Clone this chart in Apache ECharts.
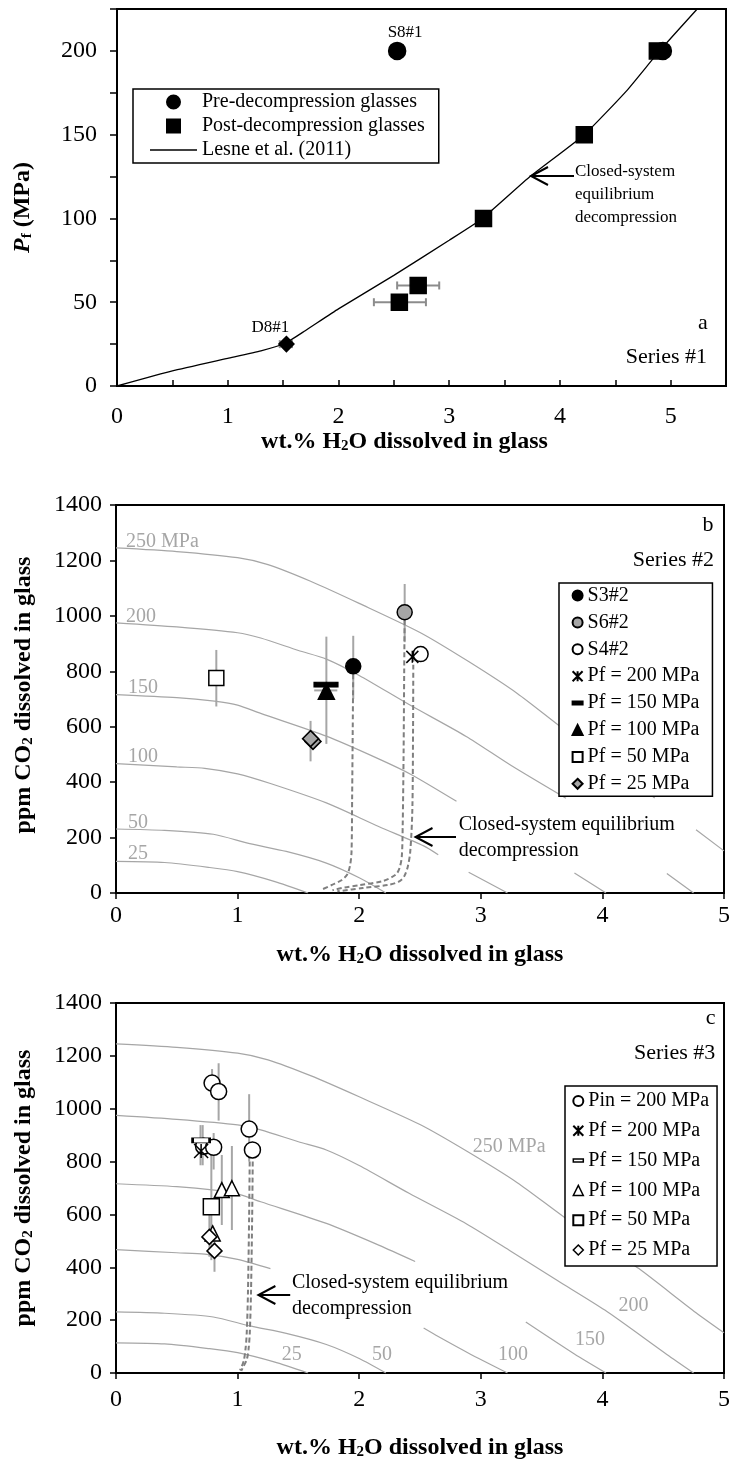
<!DOCTYPE html>
<html><head><meta charset="utf-8">
<script src="https://cdn.jsdelivr.net/npm/echarts@6/dist/echarts.min.js"></script>
<style>html,body{margin:0;padding:0;background:#fff}#c{width:733px;height:1465px}</style>
</head><body><div id="c"></div>
<script>
// ---------- Panel a data ----------
const aXTickLabels = ['0','1','2','3','4','5'];
const aYTickLabels = ['0','50','100','150','200'];
const aPre = [[2.53,200],[4.93,200]];
const aPreLabels = ['S8#1',''];
const aPost = [[4.88,200],[4.22,150],[3.31,100],[2.72,60],[2.55,50]];
const aD8 = [[1.53,25]];
const aLesne = [[0,0],[0.5,9],[1,16.5],[1.3,21],[1.52,25.5],[1.7,33],[2,46],[2.5,66],[3,87],[3.3,100],[3.73,125],[4.22,150],[4.6,176],[4.9,200],[5.24,225]];
const aXErr = [[60,2.53,2.91],[50,2.32,2.79],[25,1.47,1.58]]; // [y, xlow, xhigh]

// ---------- Isobars (ppm CO2 vs wt.% H2O) ----------
const G = ['-','-']; // gap
const b250 = [[0,1245],[0.5,1232],[1,1210],[1.25,1185],[1.6,1125],[2,1045],[2.5,940],[2.9,835],[3.3,720],[3.67,595],[4,490],[4.43,343],G,[4.77,228],[5,152]];
const b200 = [[0,975],[0.5,960],[1,939],[1.19,920],[1.5,875],[1.73,844],[2,785],[2.41,680],[2.88,565],[3.25,460],[3.7,342],G,[4.53,70],[4.75,0]];
const b150 = [[0,716],[0.5,705],[0.81,692],[1,678],[1.19,648],[1.73,566],[2.16,484],[2.43,427],[2.8,331],G,[3.77,72],[4.03,0]];
const b100 = [[0,467],[0.5,455],[0.73,450],[1,430],[1.27,395],[1.73,325],[2.16,240],[2.53,170],[2.65,138],G,[2.9,75],[3.22,0]];
const iso50 = [[0,231],[0.4,226],[0.8,212],[1.1,178],[1.4,150],[1.73,108],[2,55],[2.22,0]];
const iso25 = [[0,114],[0.4,110],[0.77,92],[1,77],[1.3,42],[1.58,0]];
const c250 = [[0,1245],[0.5,1232],[1,1210],[1.25,1185],[1.6,1125],[2,1045],[2.5,940],[2.9,835],[3.3,720],[3.67,595],[4,490],[4.3,395],[4.77,228],[5,152]];
const c200 = [[0,975],[0.5,960],[1,939],[1.19,920],[1.5,875],[1.73,844],[2,785],[2.41,680],[2.88,565],[3.25,460],[3.63,350],[4.02,238],[4.53,70],[4.75,0]];
const c150 = [[0,716],[0.5,705],[0.81,692],[1,678],[1.19,648],[1.73,566],[2.16,484],[2.46,422],G,[3.37,193],[3.77,72],[4.03,0]];
const c100 = [[0,467],[0.5,455],[0.73,450],[1,430],[1.27,395],G,[2.53,170],[2.65,138],[2.9,75],[3.22,0]];

// ---------- Panel b data ----------
const bS3 = [[1.951,818]];
const bS6 = [[2.374,1013]];
const bS4 = [[2.505,862]];
const bPf200 = [[2.437,852]];
const bPf150 = [[1.727,752]];
const bPf100 = [[1.73,728]];
const bPf50 = [[0.825,776]];
const bPf25 = [[1.62,547],[1.6,557]];
const bYErr = [[0.825,673,877],[1.73,538,925],[1.6,475,621],[1.951,700,928],[2.374,905,1115]]; // [x, ylow, yhigh]
const bXErr = [[731,1.63,1.82],[557,1.54,1.67]];
const bClosed1 = [[1.951,818],[1.947,600],[1.942,350],[1.937,150],[1.925,100],[1.9,66],[1.85,45],[1.78,30],[1.7,14]];
const bClosed2 = [[2.374,1013],[2.37,800],[2.365,500],[2.358,250],[2.35,130],[2.33,88],[2.3,66],[2.2,44],[2.0,28],[1.88,20],[1.78,10]];
const bClosed3 = [[2.445,852],[2.443,600],[2.437,300],[2.42,150],[2.4,96],[2.37,60],[2.33,42],[2.25,30],[2.03,18],[1.82,6]];

// ---------- Panel c data ----------
const cPin = [[0.79,1097],[0.844,1065],[0.72,858],[0.803,854],[1.095,923],[1.122,844]];
const cPf200 = [[0.70,840]];
const cPf150 = [[0.70,880]];
const cPf100 = [[0.87,692],[0.953,699],[0.795,528]];
const cPf50 = [[0.784,629]];
const cPf25 = [[0.768,515],[0.81,462]];
const cYErr = [[0.79,1045,1150],[0.844,955,1172],[1.095,800,1055],[0.803,770,908],[0.695,786,938],[0.713,786,938],[0.87,560,825],[0.953,541,859],[0.784,427,830],[0.81,383,540],[0.768,440,600]];
const cClosed1 = [[1.10,830],[1.095,600],[1.085,300],[1.075,150],[1.065,90],[1.05,45],[1.02,10]];
const cClosed2 = [[1.125,830],[1.12,600],[1.11,300],[1.10,150],[1.09,90],[1.075,50],[1.045,22],[1.03,8]];
const bcXTickLabels = ['0','1','2','3','4','5'];

// ---------- helpers ----------
const FONT = "'Liberation Serif','Times New Roman',Times,serif";
const STAR = 'path://M0,0L10,10M10,0L0,10M5,0L5,10';
const DASH = 'path://M0,0L10,0L10,3L0,3Z';
const SQUARE = 'path://M0,0L10,0L10,10L0,10Z';
const chart = echarts.init(document.getElementById('c'), null, {renderer:'canvas'});

function isoS(data, gi){ return {type:'line', xAxisIndex:gi, yAxisIndex:gi, data, symbol:'none', smooth:0.25, connectNulls:false, lineStyle:{color:'#a6a6a6', width:1.2}, z:1, silent:true}; }
function dashS(data, gi){ return {type:'line', xAxisIndex:gi, yAxisIndex:gi, data, symbol:'none', smooth:0.3, lineStyle:{color:'#7f7f7f', width:2, type:[5,3]}, z:2, silent:true}; }
function ptS(name, data, gi, symbol, size, fill, extra){
  const s = {name, type:'scatter', xAxisIndex:gi, yAxisIndex:gi, data, symbol, symbolSize:size,
    itemStyle:{color:fill, borderColor:'#000', borderWidth:1.5, opacity:1}, emphasis:{disabled:true}, z:4};
  return Object.assign(s, extra||{});
}
function vErr(data, gi, color){
  return {type:'custom', xAxisIndex:gi, yAxisIndex:gi, data, encode:{x:0, y:[1,2]}, z:1, silent:true,
    renderItem:(p, api)=>{ const x=api.value(0); const a=api.coord([x, api.value(1)]), b=api.coord([x, api.value(2)]);
      return {type:'line', shape:{x1:a[0],y1:a[1],x2:b[0],y2:b[1]}, style:{stroke:color, lineWidth:2}}; }};
}
function hErr(data, gi, color, cap){
  return {type:'custom', xAxisIndex:gi, yAxisIndex:gi, data, encode:{x:[1,2], y:0}, z:1, silent:true,
    renderItem:(p, api)=>{ const y=api.value(0); const a=api.coord([api.value(1), y]), b=api.coord([api.value(2), y]);
      const st={stroke:color, lineWidth:2}; const ch=[{type:'line', shape:{x1:a[0],y1:a[1],x2:b[0],y2:b[1]}, style:st}];
      if(cap){ ch.push({type:'line', shape:{x1:a[0],y1:a[1]-cap,x2:a[0],y2:a[1]+cap}, style:st});
               ch.push({type:'line', shape:{x1:b[0],y1:b[1]-cap,x2:b[0],y2:b[1]+cap}, style:st}); }
      return {type:'group', children:ch}; }};
}
const axisLine = {show:true, lineStyle:{color:'#000', width:2}};
const tickLab = {fontFamily:FONT, fontSize:24, color:'#000'};
const nameSt = (extra)=>Object.assign({fontFamily:FONT, fontSize:24, fontWeight:'bold', color:'#000',
  rich:{s:{fontFamily:FONT, fontSize:15, fontWeight:'bold', color:'#000', verticalAlign:'bottom', lineHeight:16},
        pi:{fontFamily:FONT, fontSize:24, fontWeight:'bold', fontStyle:'italic', color:'#000'},
        t:{fontFamily:FONT, fontSize:24, fontWeight:'bold', color:'#000'}}}, extra||{});
const xName = 'wt.% H{s|2}O dissolved in glass';
const yNameBC = 'ppm CO{s|2} dissolved in glass';

function txt(x, y, text, size, extra){ return {type:'text', x, y, z:100, silent:true,
  style:Object.assign({text, fontFamily:FONT, fontSize:size, fill:'#000', align:'left', verticalAlign:'middle'}, (extra||{}))}; }
function arrow(xTip, xTail, y){ return [
  {type:'line', z:100, silent:true, shape:{x1:xTail,y1:y,x2:xTip,y2:y}, style:{stroke:'#000', lineWidth:2}},
  {type:'polyline', z:100, silent:true, shape:{points:[[xTip+17,y-9],[xTip,y],[xTip+17,y+9]]}, style:{stroke:'#000', lineWidth:2, fill:'none'}} ]; }
const gray = {fill:'#a6a6a6'};

const legendText = {fontFamily:FONT, fontSize:20, color:'#000', lineHeight:22};

const option = {
  backgroundColor:'#fff',
  animation:false,
  grid:[
    {left:117, top:9, width:609, height:377, show:true, borderColor:'#000', borderWidth:2},
    {left:116, top:505, width:610, height:388, show:true, borderColor:'#000', borderWidth:2},
    {left:116, top:1003, width:612, height:370, show:true, borderColor:'#000', borderWidth:2}
  ],
  xAxis:[
    {gridIndex:0, type:'value', min:0, max:5.5, interval:0.5, axisLine, splitLine:{show:false},
     axisTick:{inside:true, length:6, lineStyle:{color:'#000', width:1.5}},
     axisLabel:Object.assign({margin:19, formatter:v=>aXTickLabels.includes(String(v))?String(v):''}, tickLab),
     name:xName, nameLocation:'middle', nameGap:40, nameTextStyle:nameSt({padding:[0,34,0,0]})},
    {gridIndex:1, type:'value', min:0, max:5, interval:1, axisLine, splitLine:{show:false},
     axisTick:{inside:false, length:6, lineStyle:{color:'#000', width:1.5}},
     axisLabel:Object.assign({margin:11, formatter:v=>bcXTickLabels.includes(String(v))?String(v):''}, tickLab),
     name:xName, nameLocation:'middle', nameGap:50, nameTextStyle:nameSt()},
    {gridIndex:2, type:'value', min:0, max:5, interval:1, axisLine, splitLine:{show:false},
     axisTick:{inside:false, length:6, lineStyle:{color:'#000', width:1.5}},
     axisLabel:Object.assign({margin:15, formatter:v=>bcXTickLabels.includes(String(v))?String(v):''}, tickLab),
     name:xName, nameLocation:'middle', nameGap:63, nameTextStyle:nameSt()}
  ],
  yAxis:[
    {gridIndex:0, type:'value', min:0, max:225, interval:25, axisLine, splitLine:{show:false},
     axisTick:{inside:false, length:7, lineStyle:{color:'#000', width:1.5}},
     axisLabel:Object.assign({margin:20, formatter:v=>aYTickLabels.includes(String(v))?String(v):''}, tickLab),
     name:'{pi|P}{s|f}{t| (MPa)}', nameLocation:'middle', nameRotate:90, nameGap:82, nameTextStyle:nameSt({padding:[0,20,0,0]})},
    {gridIndex:1, type:'value', min:0, max:1400, interval:200, axisLine, splitLine:{show:false},
     axisTick:{inside:false, length:6, lineStyle:{color:'#000', width:1.5}},
     axisLabel:Object.assign({margin:14, formatter:v=>String(v)}, tickLab),
     name:yNameBC, nameLocation:'middle', nameRotate:90, nameGap:80, nameTextStyle:nameSt({padding:[0,0,0,8]})},
    {gridIndex:2, type:'value', min:0, max:1400, interval:200, axisLine, splitLine:{show:false},
     axisTick:{inside:false, length:6, lineStyle:{color:'#000', width:1.5}},
     axisLabel:Object.assign({margin:14, formatter:v=>String(v)}, tickLab),
     name:yNameBC, nameLocation:'middle', nameRotate:90, nameGap:80, nameTextStyle:nameSt()}
  ],
  legend:[
    {left:133, top:89, orient:'vertical', selectedMode:false, itemWidth:47, itemHeight:13, itemGap:2,
     padding:[2,14,2,17], borderColor:'#000', borderWidth:1.5, backgroundColor:'#fff', textStyle:legendText,
     data:[{name:'Pre-decompression glasses', icon:'circle'},
           {name:'Post-decompression glasses', icon:SQUARE},
           {name:'Lesne et al. (2011)', icon:'path://M0,0L100,0L100,3L0,3Z', itemStyle:{color:'#000', borderWidth:0}}]},
    {left:559, top:583, orient:'vertical', selectedMode:false, itemWidth:10, itemHeight:10, itemGap:4.9,
     padding:[1.5,13,1.5,12.6], borderColor:'#000', borderWidth:1.5, backgroundColor:'#fff', textStyle:legendText,
     data:['S3#2','S6#2','S4#2','Pf = 200 MPa','Pf = 150 MPa','Pf = 100 MPa',{name:'Pf = 50 MPa', icon:SQUARE},'Pf = 25 MPa']},
    {left:565, top:1086, orient:'vertical', selectedMode:false, itemWidth:10, itemHeight:10, itemGap:7.8,
     padding:[4,8,5,7.3], borderColor:'#000', borderWidth:1.5, backgroundColor:'#fff', textStyle:legendText,
     data:[{name:'Pin = 200 MPa'},{name:'Pf = 200 MPa'},
           {name:'Pf = 150 MPa', itemStyle:{color:'#fff', borderColor:'#000', borderWidth:1.5}},
           {name:'Pf = 100 MPa', itemStyle:{color:'#fff', borderColor:'#000', borderWidth:1.5}},
           {name:'Pf = 50 MPa', icon:SQUARE},
           {name:'Pf = 25 MPa', itemStyle:{color:'#fff', borderColor:'#000', borderWidth:1.5}}]}
  ],
  series:[
    // panel a
    {name:'Lesne et al. (2011)', type:'line', xAxisIndex:0, yAxisIndex:0, data:aLesne, symbol:'none', smooth:0.15,
     itemStyle:{color:'#000'}, lineStyle:{color:'#000', width:1.3}, z:2, silent:true},
    hErr(aXErr, 0, '#8c8c8c', 4),
    ptS('D8#1', aD8, 0, 'diamond', 15, '#000', {
      label:{show:true, position:'top', distance:0, offset:[-16,0], formatter:'D8#1', fontFamily:FONT, fontSize:17, color:'#000'}}),
    ptS('Post-decompression glasses', aPost, 0, SQUARE, 16, '#000'),
    ptS('Pre-decompression glasses', aPre, 0, 'circle', 17, '#000', {
      label:{show:true, position:'top', distance:1, offset:[8,0], formatter:p=>aPreLabels[p.dataIndex], fontFamily:FONT, fontSize:17, color:'#000'}}),
    // panel b
    isoS(b250,1), isoS(b200,1), isoS(b150,1), isoS(b100,1), isoS(iso50,1), isoS(iso25,1),
    vErr(bYErr, 1, '#a6a6a6'), hErr(bXErr, 1, '#a6a6a6', 0),
    dashS(bClosed1,1), dashS(bClosed2,1), dashS(bClosed3,1),
    ptS('S3#2', bS3, 1, 'circle', 15, '#000'),
    ptS('S6#2', bS6, 1, 'circle', 15, '#a6a6a6'),
    ptS('S4#2', bS4, 1, 'circle', 15, '#fff'),
    ptS('Pf = 200 MPa', bPf200, 1, STAR, 12, '#000'),
    ptS('Pf = 150 MPa', bPf150, 1, DASH, [22,5], '#000'),
    ptS('Pf = 100 MPa', bPf100, 1, 'triangle', 16, '#000'),
    ptS('Pf = 50 MPa', bPf50, 1, SQUARE, 15, '#fff'),
    ptS('Pf = 25 MPa', bPf25, 1, 'diamond', 16, '#a6a6a6'),
    // panel c
    isoS(c250,2), isoS(c200,2), isoS(c150,2), isoS(c100,2), isoS(iso50,2), isoS(iso25,2),
    vErr(cYErr, 2, '#a6a6a6'),
    dashS(cClosed1,2), dashS(cClosed2,2),
    ptS('Pin = 200 MPa', cPin, 2, 'circle', 16, '#fff'),
    ptS('Pf = 200 MPa', cPf200, 2, STAR, 14, '#000'),
    ptS('Pf = 150 MPa', cPf150, 2, DASH, [17,5], '#fff'),
    ptS('Pf = 100 MPa', cPf100, 2, 'triangle', 15, '#fff'),
    ptS('Pf = 50 MPa', cPf50, 2, SQUARE, 16, '#fff'),
    ptS('Pf = 25 MPa', cPf25, 2, 'diamond', 15, '#fff')
  ],
  graphic:{elements:[
    // panel a
    txt(575,172,'Closed-system',17), txt(575,195,'equilibrium',17), txt(575,218,'decompression',17),
    ...arrow(531,574,176),
    txt(703,323,'a',22,{align:'center'}), txt(707,357,'Series #1',22,{align:'right'}),
    // panel b
    txt(708,525,'b',22,{align:'center'}), txt(714,560,'Series #2',22,{align:'right'}),
    txt(126,542,'250 MPa',20,gray), txt(126,617,'200',20,gray), txt(128,688,'150',20,gray),
    txt(128,757,'100',20,gray), txt(128,823,'50',20,gray), txt(128,854,'25',20,gray),
    ...arrow(415.5,456,837),
    txt(458.7,825,'Closed-system equilibrium',20), txt(458.7,850.5,'decompression',20),
    // panel c
    txt(710.6,1018,'c',22,{align:'center'}), txt(715.3,1053,'Series #3',22,{align:'right'}),
    txt(472.8,1147,'250 MPa',20,gray), txt(618.5,1306,'200',20,gray), txt(575,1340,'150',20,gray),
    txt(498,1355,'100',20,gray), txt(372,1355,'50',20,gray), txt(281.8,1355,'25',20,gray),
    ...arrow(258.4,290.2,1295),
    txt(291.9,1282.7,'Closed-system equilibrium',20), txt(291.9,1308.3,'decompression',20)
  ]}
};
chart.setOption(option);
</script></body></html>
